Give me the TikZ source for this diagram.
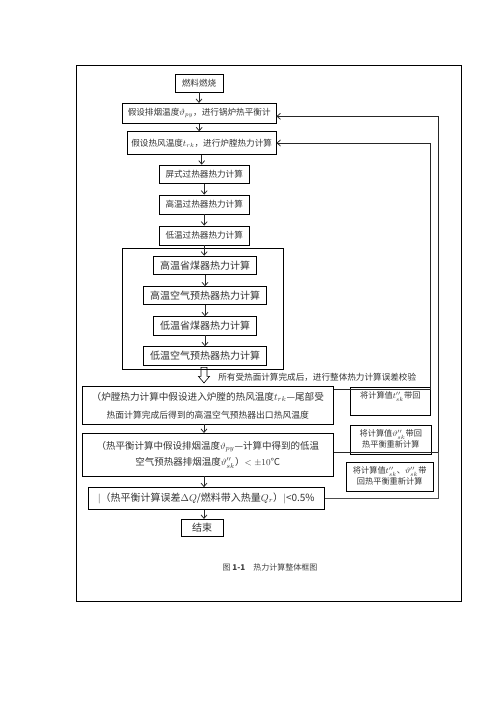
\documentclass[tikz,border=0pt]{standalone}
\usepackage{fontspec}
\newfontfamily\cjk{Noto Sans CJK SC}
\usetikzlibrary{arrows.meta}

\tikzset{every picture/.style={line width=0.75pt}}
\tikzset{
  flowbox/.style={draw, text=black!80, inner sep=0pt, align=center,
    font=\cjk\fontsize{8.6}{10}\selectfont},
  bigtext/.style={font=\cjk\fontsize{10}{12}\selectfont},
  sidebox/.style={draw, inner sep=0pt},
  sidetext/.style={text=black!80, inner sep=0pt, align=center,
    font=\cjk\fontsize{8.2}{9.6}\selectfont},
  arr/.style={-{Straight Barb[length=3.5pt,width=6pt]}, black!85},
  backline/.style={black!70},
}

\begin{document}
\begin{tikzpicture}[x=1pt,y=1pt,yscale=-1]
\useasboundingbox (0,0) rectangle (496,702);

%Page frame
\draw [line width=1pt] (76.3,65) rectangle (461.3,601);

% Main column
\node [flowbox, minimum width=48pt, minimum height=18pt] (fuel) at (199,83) {燃料燃烧};
\node [flowbox, minimum width=153.7pt, minimum height=20pt] (pyb) at (199.2,113.3) {假设排烟温度$\vartheta_{py}$，进行锅炉热平衡计};
\node [flowbox, minimum width=148.7pt, minimum height=22.6pt] (rkb) at (201.7,143) {假设热风温度$t_{rk}$，进行炉膛热力计算};
\node [flowbox, minimum width=90.5pt, minimum height=18.3pt] (pingshi) at (204.2,174.2) {屏式过热器热力计算};
\node [flowbox, minimum width=90.5pt, minimum height=19pt] (gaoguo) at (204.2,204.5) {高温过热器热力计算};
\node [flowbox, minimum width=90.5pt, minimum height=19pt] (diguo) at (204.2,235.5) {低温过热器热力计算};

%Economiser and air heater group
\node [sidebox, minimum width=160.6pt, minimum height=120.7pt] (group) at (203,308.7) {};
\node [flowbox, bigtext, minimum width=103.4pt, minimum height=18.3pt] (gaosheng) at (205,265.2) {高温省煤器热力计算};
\node [flowbox, bigtext, minimum width=123.4pt, minimum height=17.6pt] (gaokong) at (205,295.5) {高温空气预热器热力计算};
\node [flowbox, bigtext, minimum width=103.4pt, minimum height=18.3pt] (disheng) at (205,325.8) {低温省煤器热力计算};
\node [flowbox, bigtext, minimum width=123.4pt, minimum height=18.3pt] (dikong) at (205,355.8) {低温空气预热器热力计算};

% Text Node
\node [text=black!80, inner sep=0pt, anchor=west, font=\cjk\fontsize{8.6}{10}\selectfont] (note) at (218,377) {所有受热面计算完成后，进行整体热力计算误差校验};

% Checks
\node [flowbox, minimum width=251pt, minimum height=37.3pt] (lutang) at (207.8,405.3)
  {\fontsize{9.6}{11}\selectfont （炉膛热力计算中假设进入炉膛的热风温度$t_{rk}$—尾部受\\[8pt]
   \fontsize{8.8}{10}\selectfont 热面计算完成后得到的高温空气预热器出口热风温度};
\node [flowbox, minimum width=251pt, minimum height=42.7pt] (rph) at (207.8,454.7)
  {\fontsize{9.5}{11}\selectfont （热平衡计算中假设排烟温度$\vartheta_{py}$—计算中得到的低温\\[5pt]
   \fontsize{9.5}{11}\selectfont 空气预热器排烟温度$\vartheta''_{sk}$）$<\pm10$℃};
\node [flowbox, bigtext, minimum width=236pt, minimum height=21.8pt] (wucha) at (206.3,498.4)
  {$|$（热平衡计算误差$\Delta Q$/燃料带入热量$Q_r$）$|$<0.5\%};
\node [flowbox, bigtext, minimum width=42.3pt, minimum height=17.4pt] (end) at (202.2,528) {结束};

% Caption
\node [text=black!75, inner sep=0pt, font=\cjk\fontsize{8}{10}\selectfont] (caption) at (270,567) {图 \textbf{1-1}\quad 热力计算整体框图};

% Side notes
\node [sidebox, minimum width=79.3pt, minimum height=27.7pt,
  label={[sidetext, anchor=north, yshift=-4.5pt]north:将计算值$t''_{sk}$带回}] (s1) at (390.3,401.2) {};
\node [sidebox, minimum width=81.7pt, minimum height=28.3pt,
  label={[sidetext, anchor=north, yshift=-4pt]north:将计算值$\vartheta''_{sk}$带回\\热平衡重新计算}] (s2) at (390.8,439.8) {};
\node [sidebox, minimum width=87.3pt, minimum height=29pt,
  label={[sidetext, anchor=north, yshift=-3.5pt]north:将计算值$t''_{sk}$、$\vartheta''_{sk}$带\\回热平衡重新计算}] (s3) at (389.7,477.2) {};

%Straight Lines
\foreach \a/\b in {fuel/pyb, pyb/rkb, rkb/pingshi, pingshi/gaoguo, gaoguo/diguo,
                   diguo/gaosheng, gaosheng/gaokong, gaokong/disheng, disheng/dikong}
  \draw [arr] (\a.south) -- (\a.south |- \b.north);
\coordinate (col) at (204,0);
\foreach \a/\b in {lutang/rph, rph/wucha, wucha/end}
  \draw [arr] (col |- \a.south) -- (col |- \b.north);

%Hollow arrow below the group
\draw [line width=0.6pt] ([xshift=-2pt,yshift=-2pt]group.south) -- ++(0,9) -- ++(-2.5,0) -- ++(5.5,6.5)
  -- ++(5.5,-6.5) -- ++(-2.5,0) -- ++(0,-9) -- cycle;

%Return lines
\coordinate (r1) at (430.7,0);
\coordinate (r2) at (438.3,0);
\coordinate (lutout) at ([yshift=-16.4pt]lutang.east);
\coordinate (rphout) at ([yshift=-2.6pt]rph.east);
\coordinate (pyin) at ([yshift=3pt]pyb.east);
\draw [backline, arr] (lutout) -| (r1 |- rkb.east) -- (rkb.east);
\draw [backline, arr] (rphout) -| (r2 |- pyin) -- (pyin);
\draw [backline] (wucha.east) -| (r2 |- rphout);

\end{tikzpicture}
\end{document}
